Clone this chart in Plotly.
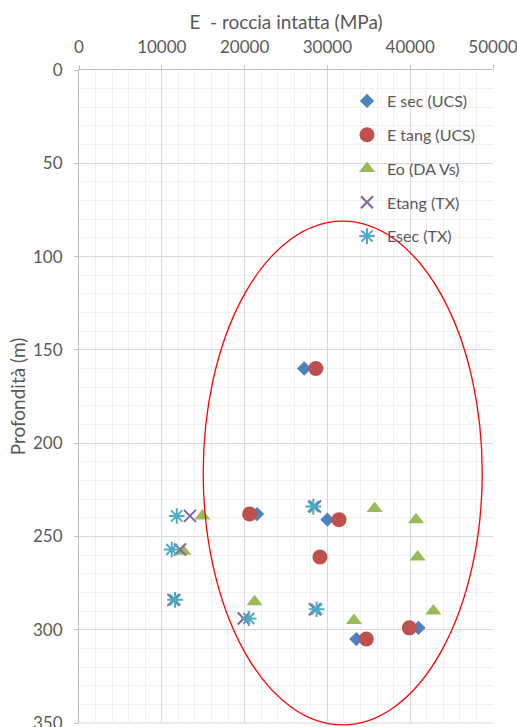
import plotly.graph_objects as go

# ---- data (E in MPa, depth in m) ----
esec_ucs_x = [27200, 21500, 30000, 33500, 41000]
esec_ucs_y = [160, 238, 241, 305, 299]

etang_ucs_x = [28600, 20600, 31400, 29100, 34700, 39900]
etang_ucs_y = [160, 238, 241, 261, 305, 299]

eo_x = [14900, 12600, 21200, 35700, 40700, 40900, 42800, 33200]
eo_y = [239, 258, 285, 235, 241, 261, 290, 295]

etang_tx_x = [13400, 12200, 11400, 19900, 28500, 28500]
etang_tx_y = [239, 257, 284, 294, 234, 289]

esec_tx_x = [11800, 11200, 11600, 20500, 28300, 28700]
esec_tx_y = [239, 257, 284, 294, 234, 289]

x_ticks = [0, 10000, 20000, 30000, 40000, 50000]
y_ticks = [0, 50, 100, 150, 200, 250, 300, 350]

# red highlight ellipse extent (data units)
ellipse_x = [15000, 48700]
ellipse_y = [81, 351]

X_MAX, Y_MAX = 50000, 350

FONT = "Lato"
GREY = "#595959"

fig = go.Figure()

def add(name, x, y, symbol, color, size, group, line=None):
    marker = dict(symbol=symbol, color=color, size=size)
    if line:
        marker["line"] = dict(color=color, width=line)
    fig.add_trace(go.Scatter(x=x, y=y, mode="markers", name=name,
                             marker=marker, legendgroup=group))

add("E sec (UCS)", esec_ucs_x, esec_ucs_y, "diamond", "#4F81BD", 11, "g1")
add("E tang (UCS)", etang_ucs_x, etang_ucs_y, "circle", "#C0504D", 15, "g2")
add("Eo (DA Vs)", eo_x, eo_y, "triangle-up", "#9BBB59", 14, "g3")
add("Etang (TX)", etang_tx_x, etang_tx_y, "x-thin-open", "#8064A2", 12, "g4", line=2)
add("Esec (TX)", esec_tx_x, esec_tx_y, "asterisk-open", "#4BACC6", 13, "g5", line=2)

# plot area in page pixels (page body margin removed below)
L, R, T, B = 79, 493, 70, 723
W, H = 517, 727
pw, ph = R - L, B - T

def px_x(p):
    return (p - L) / pw

def px_y(p):
    return 1 - (p - T) / ph

fig.add_shape(type="circle", xref="paper", yref="paper",
              x0=ellipse_x[0] / X_MAX, x1=ellipse_x[1] / X_MAX,
              y0=1 - ellipse_y[1] / Y_MAX, y1=1 - ellipse_y[0] / Y_MAX,
              line=dict(color="#FF0000", width=1.3), layer="above")

# bottom border gridline
fig.add_shape(type="line", xref="paper", yref="paper", x0=0, x1=1, y0=0, y1=0,
              line=dict(color="#D9D9D9", width=1), layer="below")

# white legend background
fig.add_shape(type="rect", xref="paper", yref="paper",
              x0=px_x(362), x1=px_x(491), y0=px_y(253), y1=px_y(78),
              fillcolor="white", line=dict(width=0), layer="between")

fig.update_layout(
    width=W, height=H,
    margin=dict(l=L, r=W - R, t=T, b=H - B),
    paper_bgcolor="white", plot_bgcolor="white",
    font=dict(family=FONT, size=16, color=GREY),
    showlegend=True,
    legend=dict(x=px_x(347), y=px_y(84), xanchor="left", yanchor="top",
                bgcolor="rgba(0,0,0,0)", tracegroupgap=10,
                font=dict(family=FONT, size=16, color=GREY)),
    xaxis=dict(side="top", range=[0, X_MAX], tickvals=x_ticks,
               ticktext=[str(v) for v in x_ticks],
               showgrid=True, gridcolor="#D9D9D9", gridwidth=1,
               minor=dict(dtick=2000, showgrid=True, gridcolor="#F0F0F0"),
               showline=True, linecolor="#BFBFBF", linewidth=1,
               ticks="outside", ticklen=4, tickcolor="#BFBFBF",
               ticklabelstandoff=5, ticklabeloverflow="allow",
               zeroline=False, automargin=False,
               title=dict(text="E\u00a0 - roccia intatta (MPa)",
                          font=dict(size=19, color=GREY), standoff=1),
               tickfont=dict(size=17, color=GREY)),
    yaxis=dict(range=[Y_MAX, 0], tickvals=y_ticks,
               showgrid=True, gridcolor="#D9D9D9", gridwidth=1,
               minor=dict(dtick=10, showgrid=True, gridcolor="#F0F0F0"),
               showline=True, linecolor="#BFBFBF", linewidth=1,
               ticks="outside", ticklen=4, tickcolor="#BFBFBF",
               ticklabelstandoff=8, ticklabeloverflow="allow",
               zeroline=False, automargin=False,
               title=dict(text="Profondità (m)", font=dict(size=19, color=GREY),
                          standoff=2),
               tickfont=dict(size=17, color=GREY)),
)

fig.write_html("out.html",
               config={"displayModeBar": False},
               post_script="document.body.style.margin='0';"
                           "document.body.style.overflow='hidden';")
